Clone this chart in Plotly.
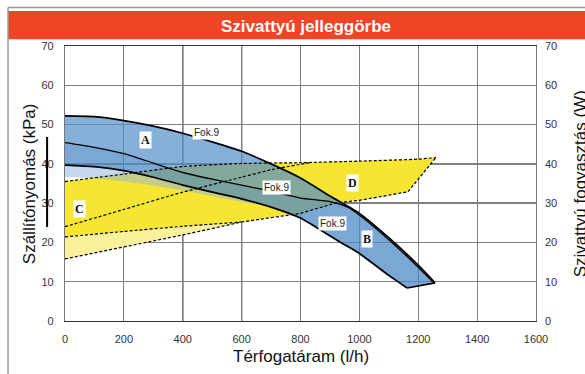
import plotly.graph_objects as go

# Pump head curves (kPa) versus flow (l/h)
flow_top = [0, 100, 200, 300, 400, 500, 600, 700, 800, 900, 1000, 1100, 1200, 1257]
head_top = [52.2, 52.0, 51.0, 49.6, 47.8, 45.6, 43.2, 40.0, 36.4, 31.8, 27.4, 21.2, 14.2, 9.7]

flow_mid = [0, 100, 200, 300, 400, 500, 600, 700, 800, 900, 960, 1000, 1100, 1200, 1250]
head_mid = [45.4, 44.2, 42.6, 40.2, 37.8, 36.1, 34.6, 33.0, 31.3, 30.4, 29.0, 27.0, 20.7, 13.7, 9.9]

flow_low = [0, 100, 200, 300, 400, 500, 600, 700, 800, 856, 934, 1000, 1100, 1162]
head_low = [39.7, 39.3, 38.3, 36.6, 34.6, 32.8, 31.1, 29.0, 26.2, 23.7, 20.1, 17.2, 11.6, 8.4]

flow_lb = [0, 100, 200, 300, 400, 500, 600, 700]
head_lb = [36.7, 36.3, 35.6, 34.5, 33.2, 31.8, 30.3, 29.0]

# Pump power consumption curves (W)
flow_pa = [0, 200, 400, 600, 800, 1000, 1200, 1260]
pow_a = [35.5, 37.4, 39.3, 40.1, 40.3, 40.7, 41.2, 41.6]
flow_pb = [0, 200, 400, 600, 700, 832]
pow_b = [24.0, 28.4, 32.8, 36.6, 38.5, 40.3]
flow_pc = [0, 200, 400, 600]
pow_c = [21.4, 22.8, 24.1, 25.2]
flow_pd = [0, 200, 400, 600, 800, 923, 1000, 1165, 1260]
pow_d = [15.8, 18.9, 21.9, 25.2, 27.4, 30.1, 30.7, 32.9, 41.6]

# Text marks
fok_x = [481, 720, 909]
fok_y = [48.0, 34.0, 24.7]
zone_names = ["A", "B", "C", "D"]
zone_x = [275, 1026, 48, 978]
zone_y = [46.0, 20.9, 28.5, 35.2]

x_ticks = [0, 200, 400, 600, 800, 1000, 1200, 1400, 1600]
y_ticks = [0, 10, 20, 30, 40, 50, 60, 70]

fig = go.Figure()


def band(xs_top, ys_top, xs_bot, ys_bot, color):
    fig.add_trace(go.Scatter(
        x=list(xs_top) + list(xs_bot)[::-1],
        y=list(ys_top) + list(ys_bot)[::-1],
        fill="toself", fillcolor=color, mode="none",
        hoverinfo="skip", showlegend=False))


# Power bands (yellow)
idx_join = flow_pd.index(flow_pc[-1])
band(flow_pc, pow_c, flow_pd[:idx_join + 1], pow_d[:idx_join + 1], "#fbf19c")
band(flow_pa, pow_a,
     flow_pc[:-1] + flow_pd[idx_join:], pow_c[:-1] + pow_d[idx_join:], "#f6e632")

# Light blue band under the lowest head curve
n_lb = len(flow_lb)
band(flow_low[:n_lb], head_low[:n_lb], flow_lb, head_lb, "rgba(139,179,221,0.5)")

# Head band A / B
band(flow_top, head_top, flow_low, head_low, "rgba(82,142,202,0.70)")
band(flow_mid, head_mid, flow_low, head_low, "rgba(50,110,185,0.12)")


# Curve outlines
def line(xs, ys, width=1.5, dash=None):
    fig.add_trace(go.Scatter(
        x=xs, y=ys, mode="lines",
        line=dict(color="black", width=width, dash=dash, shape="spline", smoothing=0.6),
        hoverinfo="skip", showlegend=False))


dash_style = "3px,2px"
line(flow_pa, pow_a, 1.2, dash_style)
line(flow_pb, pow_b, 1.2, dash_style)
line(flow_pc, pow_c, 1.2, dash_style)
fig.add_trace(go.Scatter(x=flow_pd, y=pow_d, mode="lines",
                         line=dict(color="black", width=1.2, dash=dash_style),
                         hoverinfo="skip", showlegend=False))
line(flow_top, head_top, 1.7)
line(flow_mid, head_mid, 1.3)
line(flow_low, head_low, 1.7)
fig.add_trace(go.Scatter(x=[flow_top[-1], flow_low[-1]], y=[head_top[-1], head_low[-1]],
                         mode="lines", line=dict(color="black", width=1.7),
                         hoverinfo="skip", showlegend=False))

# Right-hand power axis
fig.add_trace(go.Scatter(x=[0], y=[0], yaxis="y2", mode="none",
                         hoverinfo="skip", showlegend=False))

annotations = []
for fx, fy in zip(fok_x, fok_y):
    annotations.append(dict(x=fx, y=fy, xref="x", yref="y", text="Fok.9", showarrow=False,
                            bgcolor="white", borderpad=1,
                            font=dict(family="Liberation Sans", size=10, color="#222")))
for name, zx, zy in zip(zone_names, zone_x, zone_y):
    annotations.append(dict(x=zx, y=zy, xref="x", yref="y", text="<b>%s</b>" % name,
                            showarrow=False, bgcolor="white", borderpad=1,
                            font=dict(family="Liberation Serif", size=12, color="#111")))

annotations += [
    dict(x=0.512, y=1.112, xref="paper", yref="paper", text="<b>Szivattyú jelleggörbe</b>",
         showarrow=False, font=dict(family="Liberation Sans", size=17, color="white")),
    dict(x=-0.075, y=0.5, xref="paper", yref="paper", text="Szállítónyomás (kPa)",
         textangle=-90, showarrow=False, xanchor="center", yanchor="middle",
         font=dict(family="Liberation Sans", size=17, color="#111")),
    dict(x=1.095, y=0.5, xref="paper", yref="paper", text="Szivattyú fogyasztás (W)",
         textangle=-90, showarrow=False, xanchor="center", yanchor="middle",
         font=dict(family="Liberation Sans", size=17, color="#111")),
    dict(x=0.5, y=-0.13, xref="paper", yref="paper", text="Térfogatáram (l/h)",
         showarrow=False, xanchor="center", yanchor="middle",
         font=dict(family="Liberation Sans", size=17, color="#111")),
]

shapes = [
    # title band and frame
    dict(type="rect", xref="paper", yref="paper", x0=-0.121, x1=1.11, y0=1.025, y1=1.127,
         fillcolor="#ef4426", line=dict(width=0), layer="below"),
    dict(type="line", xref="paper", yref="paper", x0=-0.121, x1=-0.121, y0=-0.2, y1=1.14,
         line=dict(color="#9a9a9a", width=1.5)),
    dict(type="line", xref="paper", yref="paper", x0=-0.121, x1=1.11, y0=1.14, y1=1.14,
         line=dict(color="#9a9a9a", width=1.5)),
    dict(type="line", xref="paper", yref="paper", x0=-0.038, x1=-0.038, y0=0.342, y1=0.669,
         line=dict(color="black", width=2)),
]
# emphasised grid lines
for gx in [400, 600]:
    shapes.append(dict(type="line", xref="x", yref="paper", x0=gx, x1=gx, y0=0, y1=1,
                       line=dict(color="black", width=1.2), layer="below"))
for gy in [30, 40]:
    shapes.append(dict(type="line", xref="paper", yref="y", x0=0, x1=1, y0=gy, y1=gy,
                       line=dict(color="black", width=1.2), layer="below"))

fig.update_layout(
    width=585, height=374,
    margin=dict(l=65, r=49, t=46, b=53),
    paper_bgcolor="white", plot_bgcolor="white",
    showlegend=False,
    annotations=annotations,
    shapes=shapes,
    xaxis=dict(range=[0, 1600], tickvals=x_ticks, showgrid=True, gridcolor="#808080",
               gridwidth=1.2, zeroline=False, showline=True, linecolor="#333", linewidth=1.2,
               mirror=True, ticks="", ticklabelstandoff=8,
               tickfont=dict(family="Liberation Sans", size=11, color="#333")),
    yaxis=dict(range=[0, 70], tickvals=y_ticks, showgrid=True, gridcolor="#808080",
               gridwidth=1.2, zeroline=False, showline=True, linecolor="#777", linewidth=1.2,
               mirror=True, ticks="", ticklabelstandoff=8,
               tickfont=dict(family="Liberation Sans", size=11, color="#333")),
    yaxis2=dict(range=[0, 70], tickvals=y_ticks, overlaying="y", side="right",
                showgrid=False, zeroline=False, showline=False, ticks="",
                ticklabelstandoff=8,
                tickfont=dict(family="Liberation Sans", size=11, color="#333")),
)

fig.write_html("out.html")
